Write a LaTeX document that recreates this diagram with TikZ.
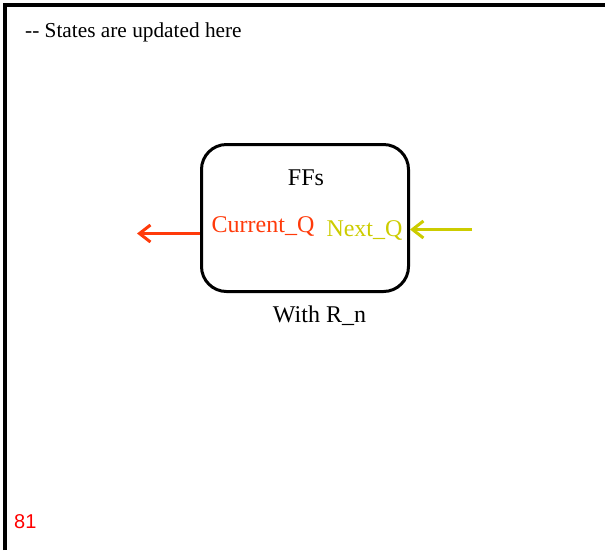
\documentclass[tikz,border=0pt]{standalone}
\usepackage{fontspec}
\setmainfont{Liberation Serif}
\newfontfamily\numfont{Liberation Sans}
\usetikzlibrary{arrows.meta}
\definecolor{ink}{HTML}{000000}
\definecolor{curq}{HTML}{FF3A0A}
\definecolor{nextq}{HTML}{CCCC00}
\definecolor{pgnum}{HTML}{FF0000}
\tikzset{
  frame/.style={draw=ink, line width=4pt},
  ffbox/.style={draw=ink, line width=3pt, rounded corners=25pt,
    minimum width=207pt, minimum height=147pt},
  sig/.style={line width=3pt, -{Straight Barb[length=11pt,width=17pt]}},
  lab/.style={text=ink, font=\fontsize{24}{28}\selectfont, inner sep=0pt},
  labh/.style={text=ink, font=\fontsize{21.3}{25}\selectfont, inner sep=0pt},
}
\begin{document}
\begin{tikzpicture}[x=1pt,y=-1pt]
  \useasboundingbox (0,0) rectangle (605,550);
  \draw[frame] (4.5,550) -- (4.5,5) -- (605,5);
  \node[labh, anchor=west] (note) at (25,32.5) {{-}{-} States are updated here};

  % flip-flop block
  \node[ffbox] (ffs) at (305,218) {};
  \node[lab] (fftitle) at (306,178) {FFs};
  \node[lab, text=curq] (cur) at (263,226.5) {Current\_Q};
  \node[lab, text=nextq] (nxt) at (364.5,230.5) {Next\_Q};
  \node[lab] (rst) at (319.5,315.5) {With R\_n};

  % state in / out
  \coordinate (qout) at (137,233.5);
  \coordinate (qin) at (472,229.5);
  \draw[sig, draw=curq] (ffs.west |- qout) -- (qout);
  \draw[sig, draw=nextq] (qin) -- (ffs.east |- qin);

  \node[text=pgnum, font=\numfont\fontsize{20}{24}\selectfont, anchor=west, inner sep=0pt] (pg) at (14,521.5) {81};
\end{tikzpicture}
\end{document}
